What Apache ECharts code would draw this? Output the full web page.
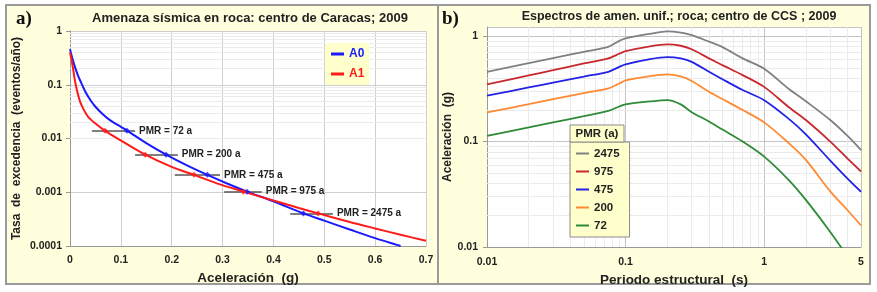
<!DOCTYPE html>
<html>
<head>
<meta charset="utf-8">
<script src="https://cdn.jsdelivr.net/npm/echarts@6/dist/echarts.min.js"></script>
<style>
  html, body { margin: 0; background: #fff; }
  #chart { width: 877px; height: 292px; }
</style>
</head>
<body>
<div id="chart"></div>
<script>
// a) hazard curves
const accelA0 = [0, 0.005, 0.01, 0.015, 0.02, 0.03, 0.04, 0.05, 0.065, 0.08, 0.1, 0.113, 0.15, 0.189, 0.23, 0.27, 0.31, 0.348, 0.4, 0.459, 0.5, 0.55, 0.6, 0.65]
const rateA0 = [0.46, 0.3, 0.21, 0.155, 0.12, 0.075, 0.052, 0.039, 0.028, 0.0215, 0.0165, 0.0139, 0.0082, 0.005, 0.00315, 0.0021, 0.00144, 0.00103, 0.00068, 0.000404, 0.000296, 0.000203, 0.00014, 0.0001]
const accelA1 = [0, 0.003, 0.006, 0.01, 0.015, 0.02, 0.028, 0.036, 0.05, 0.069, 0.1, 0.148, 0.2, 0.244, 0.29, 0.341, 0.4, 0.45, 0.488, 0.55, 0.6, 0.65, 0.7]
const rateA1 = [0.4, 0.29, 0.2, 0.115, 0.07, 0.048, 0.033, 0.025, 0.019, 0.0139, 0.0092, 0.005, 0.00296, 0.0021, 0.00145, 0.00103, 0.0007, 0.00051, 0.000404, 0.000279, 0.000212, 0.000162, 0.000125]

// return periods marked on the curves
const pmrYears = [72, 200, 475, 975, 2475]
const pmrAccA0 = [0.112, 0.189, 0.27, 0.348, 0.459]
const pmrAccA1 = [0.069, 0.148, 0.244, 0.341, 0.488]
const barFrom = [0.043, 0.128, 0.206, 0.303, 0.433]
const barTo = [0.128, 0.212, 0.295, 0.377, 0.517]

// b) uniform hazard spectra
const periods = [0.01, 0.02, 0.03, 0.05, 0.075, 0.09, 0.1, 0.15, 0.2, 0.25, 0.3, 0.4, 0.5, 0.7, 1.0, 1.5, 2.0, 3.0, 4.0, 5.0]
const sa2475 = [0.459, 0.553, 0.618, 0.71, 0.79, 0.9, 0.95, 1.05, 1.11, 1.08, 1.02, 0.885, 0.787, 0.615, 0.49, 0.317, 0.241, 0.16, 0.113, 0.083]
const sa975 = [0.348, 0.424, 0.475, 0.55, 0.615, 0.68, 0.72, 0.8, 0.835, 0.81, 0.75, 0.615, 0.53, 0.427, 0.33, 0.213, 0.16, 0.1, 0.069, 0.052]
const sa475 = [0.272, 0.326, 0.362, 0.413, 0.459, 0.51, 0.54, 0.605, 0.632, 0.615, 0.57, 0.459, 0.39, 0.308, 0.247, 0.165, 0.117, 0.066, 0.0445, 0.0334]
const sa200 = [0.189, 0.226, 0.252, 0.288, 0.319, 0.355, 0.38, 0.418, 0.434, 0.415, 0.375, 0.297, 0.253, 0.199, 0.152, 0.097, 0.067, 0.0337, 0.0223, 0.016]
const sa72 = [0.113, 0.136, 0.152, 0.174, 0.195, 0.215, 0.225, 0.24, 0.247, 0.225, 0.19, 0.155, 0.13, 0.1, 0.072, 0.0434, 0.028, 0.0139, 0.0081, null]

const spectra = [
  { name: '2475', values: sa2475, color: '#808080' },
  { name: '975', values: sa975, color: '#c8282d' },
  { name: '475', values: sa475, color: '#2222e6' },
  { name: '200', values: sa200, color: '#ff8a33' },
  { name: '72', values: sa72, color: '#2e8b37' }
]

const FONT = '"Liberation Sans", Arial, sans-serif'
const BG = '#ffffdd'
const MAJOR = '#cfcfcf'
const MINOR = '#ebebeb'
const BLUE = '#1a1aff'
const RED = '#ff1a1a'

// minor log grid positions (2..9 in each decade)
function decadeSteps(fromExp, toExp, maxVal) {
  const out = []
  for (let e = fromExp; e < toExp; e++) {
    for (let k = 2; k < 10; k++) {
      const v = +(k * Math.pow(10, e)).toPrecision(3)
      if (v < maxVal) out.push(v)
    }
  }
  return out
}
const minorYa = decadeSteps(-4, 0, 1)
const minorXb = decadeSteps(-2, 1, 5)
const minorYb = decadeSteps(-2, 0, 1)

const pair = (xs, ys) => xs.map((x, i) => [x, ys[i]])
const logLabel = (v) => String(+(+v).toPrecision(4))

const chart = echarts.init(document.getElementById('chart'))

const axisText = { color: '#222', fontWeight: 'bold', fontSize: 10.5, fontFamily: FONT }
const nameText = { color: '#222', fontWeight: 'bold', fontFamily: FONT }

function minorGrid(gridIdx, xs, ys) {
  return {
    type: 'line',
    xAxisIndex: gridIdx,
    yAxisIndex: gridIdx,
    data: [],
    silent: true,
    z: 1,
    markLine: {
      z: 1,
      silent: true,
      animation: false,
      symbol: ['none', 'none'],
      label: { show: false },
      lineStyle: { color: MINOR, width: 1, type: 'solid' },
      data: xs.map((v) => ({ xAxis: v })).concat(ys.map((v) => ({ yAxis: v })))
    }
  }
}

chart.setOption({
  animation: false,
  textStyle: { fontFamily: FONT },
  graphic: [
    { type: 'rect', shape: { x: 6, y: 5, width: 432, height: 279 }, style: { fill: BG, stroke: '#9a9a9a', lineWidth: 2 }, z: -10, silent: true },
    { type: 'rect', shape: { x: 438, y: 5, width: 432, height: 279 }, style: { fill: BG, stroke: '#9a9a9a', lineWidth: 2 }, z: -10, silent: true },
    { type: 'text', x: 16, y: 19, style: { text: 'a)', font: 'bold 19px "Liberation Serif", "Times New Roman", serif', fill: '#111', textVerticalAlign: 'middle' } },
    { type: 'text', x: 442, y: 19, style: { text: 'b)', font: 'bold 19px "Liberation Serif", "Times New Roman", serif', fill: '#111', textVerticalAlign: 'middle' } },
    { type: 'text', x: 250, y: 18, style: { text: 'Amenaza sísmica en roca: centro de Caracas; 2009', font: 'bold 13px ' + FONT, fill: '#222', textAlign: 'center', textVerticalAlign: 'middle' } },
    { type: 'text', x: 679, y: 17, style: { text: 'Espectros de amen. unif.; roca; centro de CCS ; 2009', font: 'bold 12.5px ' + FONT, fill: '#222', textAlign: 'center', textVerticalAlign: 'middle' } },
    { type: 'rect', shape: { x: 570, y: 125, width: 54, height: 17 }, style: { fill: '#ffffcc', stroke: '#8a8a8a', lineWidth: 1 }, z: 10 },
    { type: 'text', x: 597, y: 134, z: 11, style: { text: 'PMR (a)', font: 'bold 11.5px ' + FONT, fill: '#222', textAlign: 'center', textVerticalAlign: 'middle' } }
  ],
  legend: [
    {
      data: [
        { name: 'A0', textStyle: { color: BLUE } },
        { name: 'A1', textStyle: { color: RED } }
      ],
      orient: 'vertical',
      left: 325,
      top: 43,
      z: 6,
      padding: [4, 5, 4, 6],
      itemGap: 6,
      itemWidth: 13,
      itemHeight: 3,
      icon: 'rect',
      backgroundColor: '#ffffcc',
      textStyle: { fontWeight: 'bold', fontSize: 12, fontFamily: FONT, lineHeight: 14 }
    },
    {
      data: spectra.map((s) => s.name),
      orient: 'vertical',
      left: 570,
      top: 142,
      width: 54,
      z: 6,
      padding: [5, 10, 5, 6],
      itemGap: 5,
      itemWidth: 13,
      itemHeight: 2,
      icon: 'rect',
      backgroundColor: '#ffffcc',
      borderColor: '#8a8a8a',
      borderWidth: 1,
      textStyle: { color: '#222', fontWeight: 'bold', fontSize: 11.5, fontFamily: FONT, lineHeight: 13 }
    }
  ],
  grid: [
    { left: 70, top: 31, width: 356, height: 215, show: true, backgroundColor: '#fff', borderWidth: 0 },
    { left: 487, top: 27, width: 374, height: 220, show: true, backgroundColor: '#fff', borderWidth: 0 }
  ],
  xAxis: [
    {
      type: 'value',
      gridIndex: 0,
      min: 0,
      max: 0.7,
      interval: 0.1,
      name: 'Aceleración  (g)',
      nameLocation: 'middle',
      nameGap: 24,
      nameTextStyle: Object.assign({ fontSize: 13.5 }, nameText),
      axisLine: { lineStyle: { color: '#999' } },
      axisTick: { show: false },
      axisLabel: Object.assign({ margin: 9 }, axisText),
      splitLine: { lineStyle: { color: MAJOR } }
    },
    {
      type: 'log',
      logBase: 10,
      gridIndex: 1,
      min: 0.01,
      max: 5,
      name: 'Periodo estructural  (s)',
      nameLocation: 'middle',
      nameGap: 24,
      nameTextStyle: Object.assign({ fontSize: 13.5 }, nameText),
      axisLine: { lineStyle: { color: '#999' } },
      axisTick: { show: false },
      axisLabel: Object.assign({ margin: 10, formatter: logLabel }, axisText),
      splitLine: { lineStyle: { color: '#c4c4c4' } }
    }
  ],
  yAxis: [
    {
      type: 'log',
      logBase: 10,
      gridIndex: 0,
      min: 0.0001,
      max: 1,
      name: 'Tasa  de  excedencia  (eventos/año)',
      nameLocation: 'middle',
      nameGap: 47,
      nameTextStyle: Object.assign({ fontSize: 12 }, nameText),
      axisLine: { show: true, lineStyle: { color: '#999' } },
      axisTick: { show: true, length: 4, lineStyle: { color: '#999' } },
      axisLabel: Object.assign({ margin: 8, formatter: logLabel }, axisText),
      splitLine: { lineStyle: { color: MAJOR } }
    },
    {
      type: 'log',
      logBase: 10,
      gridIndex: 1,
      min: 0.01,
      max: 1.22,
      name: 'Aceleración  (g)',
      nameLocation: 'middle',
      nameGap: 22,
      nameTextStyle: Object.assign({ fontSize: 12 }, nameText),
      axisLine: { show: true, lineStyle: { color: '#999' } },
      axisTick: { show: true, length: 4, lineStyle: { color: '#999' } },
      axisLabel: Object.assign({ margin: 9, formatter: logLabel, showMaxLabel: false }, axisText),
      splitLine: { lineStyle: { color: '#c4c4c4' } }
    }
  ],
  series: [
    minorGrid(0, [], minorYa),
    minorGrid(1, minorXb, minorYb),
    {
      name: 'A0',
      type: 'line',
      xAxisIndex: 0,
      yAxisIndex: 0,
      data: pair(accelA0, rateA0),
      smooth: 0.3,
      showSymbol: false,
      symbol: 'none',
      z: 3,
      lineStyle: { color: BLUE, width: 2 },
      itemStyle: { color: BLUE }
    },
    {
      name: 'A1',
      type: 'line',
      xAxisIndex: 0,
      yAxisIndex: 0,
      data: pair(accelA1, rateA1),
      smooth: 0.3,
      showSymbol: false,
      symbol: 'none',
      z: 3,
      lineStyle: { color: RED, width: 2 },
      itemStyle: { color: RED }
    },
    {
      name: 'PMR',
      type: 'line',
      xAxisIndex: 0,
      yAxisIndex: 0,
      data: [],
      z: 2,
      markLine: {
        z: 3,
        silent: true,
        animation: false,
        symbol: ['none', 'none'],
        lineStyle: { color: '#555', width: 1.5, type: 'solid' },
        label: { show: true, position: 'end', distance: 4, color: '#222', fontWeight: 'bold', fontSize: 10, fontFamily: FONT },
        data: pmrYears.map((yr, i) => [
          { coord: [barFrom[i], 1 / yr], name: 'PMR = ' + yr + ' a' },
          { coord: [barTo[i], 1 / yr] }
        ])
      }
    },
    {
      name: 'PMR A0',
      type: 'scatter',
      xAxisIndex: 0,
      yAxisIndex: 0,
      symbol: 'diamond',
      symbolSize: 6,
      z: 4,
      itemStyle: { color: BLUE },
      data: pmrYears.map((yr, i) => [pmrAccA0[i], 1 / yr])
    },
    {
      name: 'PMR A1',
      type: 'scatter',
      xAxisIndex: 0,
      yAxisIndex: 0,
      symbol: 'diamond',
      symbolSize: 6,
      z: 4,
      itemStyle: { color: RED },
      data: pmrYears.map((yr, i) => [pmrAccA1[i], 1 / yr])
    }
  ].concat(spectra.map((s) => ({
    name: s.name,
    type: 'line',
    xAxisIndex: 1,
    yAxisIndex: 1,
    data: pair(periods, s.values).filter((d) => d[1] != null),
    smooth: 0.3,
    showSymbol: false,
    symbol: 'none',
    clip: true,
    z: 3,
    lineStyle: { color: s.color, width: 1.8 },
    itemStyle: { color: s.color }
  })))
})
</script>
</body>
</html>
